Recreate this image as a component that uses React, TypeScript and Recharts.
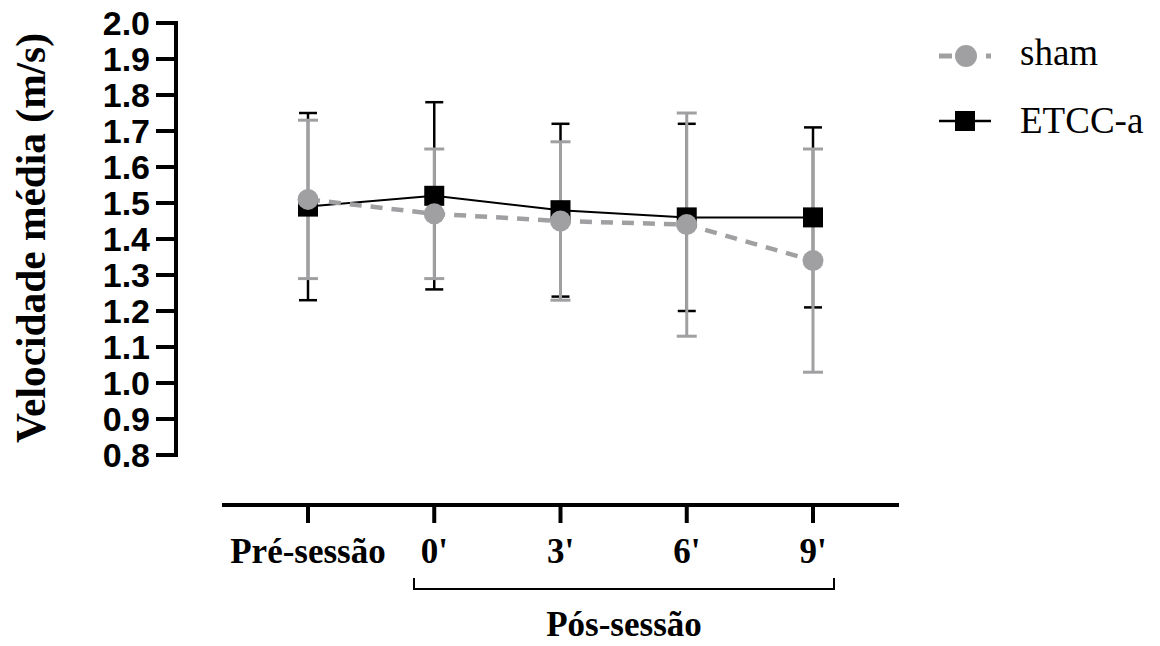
import { LineChart, Line, XAxis, YAxis, ErrorBar } from 'recharts'

const categories = ['Pré-sessão', "0'", "3'", "6'", "9'"]
const shamMean = [1.51, 1.47, 1.45, 1.44, 1.34]
const shamSd = [0.22, 0.18, 0.22, 0.31, 0.31]
const etccMean = [1.49, 1.52, 1.48, 1.46, 1.46]
const etccSd = [0.26, 0.26, 0.24, 0.26, 0.25]
const yTicks = [0.8, 0.9, 1.0, 1.1, 1.2, 1.3, 1.4, 1.5, 1.6, 1.7, 1.8, 1.9, 2.0]

const data = categories.map((name, i) => ({
  name,
  sham: shamMean[i],
  shamSd: shamSd[i],
  etcc: etccMean[i],
  etccSd: etccSd[i],
}))

const GRAY = '#a0a0a3'
const serif = '"Liberation Serif", "Times New Roman", serif'
const sans = '"Liberation Sans", Arial, sans-serif'

// x axis sits 50px under the 0.8 tick, like the GraphPad original
const yDomain = [0.8 - 50 / 360, 2.0]

const Square = (p: any) => (
  <rect key={`sq-${p.index}`} x={p.cx - 10} y={p.cy - 10} width={20} height={20} fill="#000" />
)
const Circle = (p: any) => (
  <circle key={`ci-${p.index}`} cx={p.cx} cy={p.cy} r={10.5} fill={GRAY} />
)

export default function App() {
  return (
    <div style={{ position: 'relative', width: 1160, height: 646, background: '#fff' }}>
      <style>{`body{margin:0}`}</style>
      <LineChart
        width={1160}
        height={646}
        data={data}
        margin={{ top: 23, right: 261, bottom: 0, left: 0 }}
      >
        <XAxis
          dataKey="name"
          height={141}
          padding={{ left: 132, right: 86 }}
          axisLine={{ stroke: '#000', strokeWidth: 4, strokeDasharray: '0 46 677 2000' }}
          tickLine={{ stroke: '#000', strokeWidth: 4 }}
          tickSize={18}
          tickMargin={15}
          tick={{ fill: '#000', fontSize: 35, fontWeight: 700, fontFamily: serif }}
          interval={0}
        />
        <YAxis
          type="number"
          domain={yDomain}
          ticks={yTicks}
          interval={0}
          width={176}
          allowDataOverflow
          axisLine={{ stroke: '#000', strokeWidth: 4, strokeDasharray: '432 1000', strokeLinecap: 'square' }}
          tickLine={{ stroke: '#000', strokeWidth: 4 }}
          tickSize={20}
          tickMargin={6}
          tickFormatter={(v: number) => v.toFixed(1)}
          tick={{ fill: '#000', fontSize: 34, fontWeight: 700, fontFamily: sans }}
        />
        <Line
          dataKey="etcc"
          stroke="#000"
          strokeWidth={2}
          dot={Square}
          activeDot={false}
          isAnimationActive={false}
        >
          <ErrorBar dataKey="etccSd" width={9} stroke="#000" strokeWidth={2.5} direction="y" isAnimationActive={false} />
        </Line>
        <Line
          dataKey="sham"
          stroke={GRAY}
          strokeWidth={4.5}
          strokeDasharray="12 9"
          dot={Circle}
          activeDot={false}
          isAnimationActive={false}
        >
          <ErrorBar dataKey="shamSd" width={10} stroke={GRAY} strokeWidth={3} direction="y" isAnimationActive={false} />
        </Line>
      </LineChart>

      {/* axis title, bracket and legend */}
      <svg width={1160} height={646} style={{ position: 'absolute', left: 0, top: 0, pointerEvents: 'none' }}>
        <text
          transform="translate(45,238) rotate(-90)"
          textAnchor="middle"
          fontFamily={serif}
          fontWeight={700}
          fontSize={43}
          textLength={410}
          lengthAdjust="spacingAndGlyphs"
          fill="#000"
        >
          Velocidade média (m/s)
        </text>

        <path d="M414 578 V589 H834 V578" fill="none" stroke="#000" strokeWidth={2} />
        <text x={624} y={636} textAnchor="middle" fontFamily={serif} fontWeight={700} fontSize={35} fill="#000">
          Pós-sessão
        </text>

        <path d="M939 56 H952 M986 56 H991" stroke={GRAY} strokeWidth={5} />
        <circle cx={966} cy={56} r={11} fill={GRAY} />
        <text x={1020} y={65} fontFamily={serif} fontSize={37} fill="#000">sham</text>

        <line x1={939} y1={121} x2={991} y2={121} stroke="#000" strokeWidth={2.5} />
        <rect x={955} y={111} width={20} height={20} fill="#000" />
        <text x={1020} y={133} fontFamily={serif} fontSize={37} fill="#000">ETCC-a</text>
      </svg>
    </div>
  )
}
